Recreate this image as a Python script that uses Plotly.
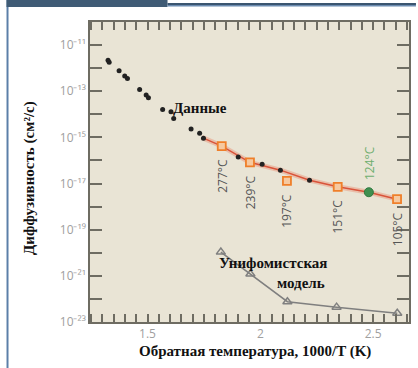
import math
import plotly.graph_objects as go

# ---------------- data ----------------
data_x = [1.325, 1.330, 1.374, 1.399, 1.411, 1.465, 1.494, 1.504, 1.567, 1.604,
          1.616, 1.693, 1.731, 1.748, 1.902, 2.008, 2.089, 2.218]
data_y = [2.2e-12, 1.8e-12, 7.8e-13, 4.6e-13, 3.6e-13, 1.2e-13, 6.8e-14, 5.2e-14,
          1.6e-14, 1.3e-14, 6.6e-15, 2.3e-15, 1.5e-15, 9.1e-16, 1.4e-16, 6.8e-17,
          3.8e-17, 1.4e-17]

sq_x = [1.829, 1.954, 2.118, 2.343, 2.606]
sq_y = [4.2e-16, 8.3e-17, 1.3e-17, 7.2e-18, 2.1e-18]
sq_labels = ["277°C", "239°C", "197°C", "151°C", "105°C"]

green_x = [2.481]
green_y = [4.2e-18]
green_labels = ["124°C"]

fit_x = [1.740, 1.829, 1.954, 2.089, 2.218, 2.343, 2.481, 2.606]
fit_y = [1.0e-15, 4.2e-16, 8.3e-17, 3.8e-17, 1.4e-17, 7.2e-18, 4.2e-18, 2.1e-18]

model_x = [1.825, 1.956, 2.120, 2.338, 2.607]
model_y = [1.07e-20, 1.2e-21, 7.6e-23, 4.4e-23, 2.4e-23]

y_tick_exp = list(range(-23, -10))
y_labels_by_exp = {-11: "10⁻¹¹", -13: "10⁻¹³", -15: "10⁻¹⁵", -17: "10⁻¹⁷",
                   -19: "10⁻¹⁹", -21: "10⁻²¹", -23: "10⁻²³"}
y_tick_text = [y_labels_by_exp.get(e, " ") for e in y_tick_exp]

x_tick_vals = [round(1.25 + 0.05 * i, 2) for i in range(29)]
x_major_labels = {1.5: "1.5", 2.0: "2", 2.5: "2.5"}
x_tick_text = [x_major_labels.get(v, " ") for v in x_tick_vals]

# ---------------- figure ----------------
W, H = 418, 368
L, R, T, B = 90, 7, 22, 46
pw, ph = W - L - R, H - T - B


def px(xp):
    return (xp - L) / pw


def py(yp):
    return (H - B - yp) / ph


fig = go.Figure()

fig.add_trace(go.Scatter(x=model_x, y=model_y, mode="lines+markers",
                         line=dict(color="#7f7f7f", width=1.5),
                         marker=dict(symbol="triangle-up-open", size=8,
                                     color="#808080", line=dict(width=1.5))))

fig.add_trace(go.Scatter(x=fit_x, y=fit_y, mode="lines",
                         line=dict(color="rgba(235,120,90,0.35)", width=5)))
fig.add_trace(go.Scatter(x=fit_x, y=fit_y, mode="lines",
                         line=dict(color="#d9533a", width=1.5)))

fig.add_trace(go.Scatter(x=data_x, y=data_y, mode="markers",
                         marker=dict(size=5, color="#222222")))

fig.add_trace(go.Scatter(x=sq_x, y=sq_y, mode="markers",
                         marker=dict(symbol="square", size=8, color="#f6c9a0",
                                     line=dict(color="#ef7f2a", width=1.8))))

fig.add_trace(go.Scatter(x=green_x, y=green_y, mode="markers",
                         marker=dict(symbol="circle", size=9, color="#3f8f50",
                                     line=dict(color="#2f7a40", width=1))))

annotations = []
for xv, yv, t in zip(sq_x, sq_y, sq_labels):
    annotations.append(dict(x=xv, y=math.log10(yv), text=t,
                            textangle=-90, showarrow=False, xanchor="center",
                            yanchor="top", yshift=-11,
                            font=dict(family="Open Sans", size=12, color="#555555")))
for xv, yv, t in zip(green_x, green_y, green_labels):
    annotations.append(dict(x=xv, y=math.log10(yv), text=t,
                            textangle=-90, showarrow=False, xanchor="center",
                            yanchor="bottom", yshift=10,
                            font=dict(family="Open Sans", size=12, color="#6fae6f")))

serif_bold = dict(family="Liberation Serif", size=15, color="#111111")
annotations += [
    dict(xref="paper", yref="paper", x=px(201), y=py(98), text="<b>Данные</b>",
         showarrow=False, font=serif_bold),
    dict(xref="paper", yref="paper", x=px(330), y=py(273), text="<b>Унифомистская</b>",
         showarrow=False, font=serif_bold),
    dict(xref="paper", yref="paper", x=px(328), y=py(293), text="<b>модель</b>",
         showarrow=False, font=serif_bold),
    dict(xref="paper", yref="paper", x=px(256), y=py(362),
         text="<b>Обратная температура, 1000/T (K)</b>", showarrow=False, font=serif_bold),
    dict(xref="paper", yref="paper", x=px(18), y=py(178), textangle=-90,
         text="<b>Диффузивность (см²/с)</b>", showarrow=False, font=serif_bold),
]

shapes = [
    dict(type="rect", xref="paper", yref="paper", x0=px(6), x1=px(8), y0=py(0), y1=py(368),
         fillcolor="#5b7fa8", line=dict(width=0)),
    dict(type="rect", xref="paper", yref="paper", x0=px(6), x1=px(168), y0=py(0), y1=py(7),
         fillcolor="#3f5b75", line=dict(width=0)),
    dict(type="rect", xref="paper", yref="paper", x0=px(168), x1=px(418), y0=py(3), y1=py(5),
         fillcolor="#3a5570", line=dict(width=0)),
    dict(type="rect", xref="paper", yref="paper", x0=px(168), x1=px(418), y0=py(5), y1=py(6.5),
         fillcolor="#6b8bb0", line=dict(width=0)),
]

axis_col = "#6e6c62"
fig.update_layout(
    width=W, height=H,
    margin=dict(l=L, r=R, t=T, b=B),
    paper_bgcolor="white",
    plot_bgcolor="#e9e4d5",
    showlegend=False,
    hovermode=False,
    annotations=annotations,
    shapes=shapes,
    xaxis=dict(range=[1.245, 2.659], tickmode="array", tickvals=x_tick_vals, ticktext=x_tick_text,
               tickangle=0,
               ticks="inside", ticklen=8, tickwidth=1.5, tickcolor=axis_col,
               mirror="allticks", showline=True, linecolor=axis_col, linewidth=1.5,
               showgrid=False, zeroline=False,
               tickfont=dict(family="Open Sans", size=12, color="#a0a0a0")),
    yaxis=dict(type="log", range=[-23, -10],
               tickmode="array",
               tickvals=[10.0 ** e for e in y_tick_exp], ticktext=y_tick_text,
               ticks="inside", ticklen=12, tickwidth=1.5, tickcolor=axis_col,
               mirror="allticks", showline=True, linecolor=axis_col, linewidth=1.5,
               showgrid=False, zeroline=False,
               tickfont=dict(family="Open Sans", size=12, color="#a0a0a0")),
)

fig.write_html("out.html", config={"displayModeBar": False},
               post_script="document.body.style.margin='0';document.body.style.overflow='hidden';")
